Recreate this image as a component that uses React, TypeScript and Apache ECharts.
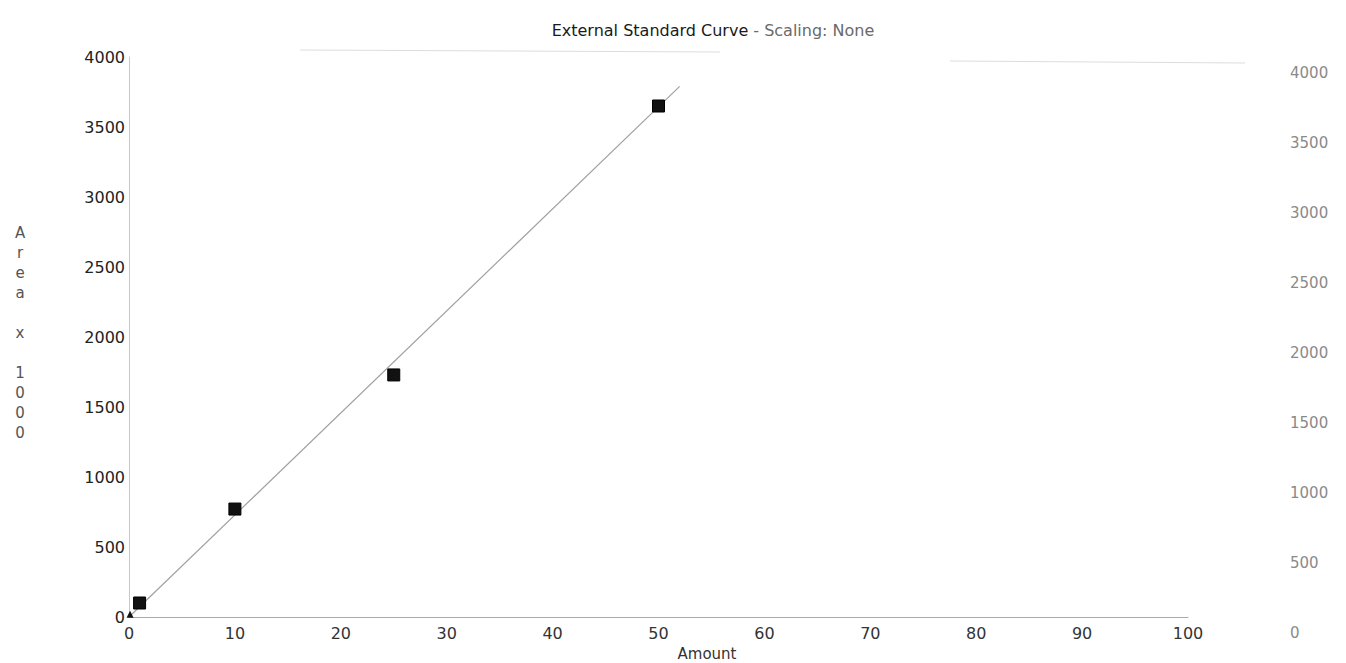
import React, { useEffect, useRef } from "react";
import * as echarts from "echarts";

const titleMain = "External Standard Curve";
const titleSub = " - Scaling: None";
const xAxisName = "Amount";
const yAxisName = ["A", "r", "e", "a", "", "x", "", "1", "0", "0", "0"];

const standardAmounts = [1, 10, 25, 50];
const standardAreas = [100, 771, 1729, 3650];
const originAmounts = [0.1];
const originAreas = [20];
const fitAmounts = [0, 52];
const fitAreas = [0, 3790];

const xTicks = [0, 10, 20, 30, 40, 50, 60, 70, 80, 90, 100];
const yTicks = [0, 500, 1000, 1500, 2000, 2500, 3000, 3500, 4000];

const FONT = "DejaVu Sans";
const plain = (v: number) => String(v);

export default function App() {
  const ref = useRef<HTMLDivElement>(null);
  useEffect(() => {
    if (!ref.current) return;
    const chart = echarts.init(ref.current, null, { renderer: "svg" });
    const xMin = xTicks[0];
    const xMax = xTicks[xTicks.length - 1];
    const yMin = yTicks[0];
    const yMax = yTicks[yTicks.length - 1];
    chart.setOption({
      animation: false,
      backgroundColor: "#ffffff",
      grid: [
        { left: 129, right: 158, top: 57, bottom: 46 },
        { left: 129, right: 64, top: 73, bottom: 30 },
      ],
      xAxis: [
        {
          type: "value",
          gridIndex: 0,
          min: xMin,
          max: xMax,
          interval: 10,
          axisLine: { show: true, lineStyle: { color: "#aaaaaa", width: 1 } },
          axisTick: { show: false },
          splitLine: { show: false },
          axisLabel: { margin: 8, fontSize: 16, fontFamily: FONT, color: "#333333", formatter: plain },
        },
        {
          type: "value",
          gridIndex: 1,
          min: xMin,
          max: xMax,
          show: false,
        },
      ],
      yAxis: [
        {
          type: "value",
          gridIndex: 0,
          min: yMin,
          max: yMax,
          interval: 500,
          axisLine: { show: true, lineStyle: { color: "#c8c8c8", width: 1 } },
          axisTick: { show: false },
          splitLine: { show: false },
          axisLabel: { margin: 4, fontSize: 16, fontFamily: FONT, color: "#222222", formatter: plain },
        },
        {
          type: "value",
          gridIndex: 1,
          position: "right",
          min: yMin,
          max: yMax,
          interval: 500,
          axisLine: { show: false },
          axisTick: { show: false },
          splitLine: { show: false },
          axisLabel: { margin: 8, fontSize: 15, fontFamily: FONT, color: "#8a8a8a", formatter: plain },
        },
      ],
      series: [
        {
          type: "line",
          xAxisIndex: 0,
          yAxisIndex: 0,
          data: fitAmounts.map((x, i) => [x, fitAreas[i]]),
          symbol: "none",
          lineStyle: { color: "#a0a0a0", width: 1.2 },
          z: 1,
        },
        {
          type: "scatter",
          xAxisIndex: 0,
          yAxisIndex: 0,
          data: standardAmounts.map((x, i) => [x, standardAreas[i]]),
          symbol: "rect",
          symbolSize: 12,
          itemStyle: { color: "#111111", borderColor: "#000000", borderWidth: 1, opacity: 1 },
          z: 3,
        },
        {
          type: "scatter",
          xAxisIndex: 0,
          yAxisIndex: 0,
          data: originAmounts.map((x, i) => [x, originAreas[i]]),
          symbol: "triangle",
          symbolSize: 7,
          itemStyle: { color: "#111111", opacity: 1 },
          z: 3,
        },
      ],
      graphic: [
        {
          type: "text",
          x: 713,
          y: 30,
          style: {
            text: "{a|" + titleMain + "}{b|" + titleSub + "}",
            align: "center",
            verticalAlign: "middle",
            rich: {
              a: { fontSize: 16, fontFamily: FONT, fill: "#1a1a1a" },
              b: { fontSize: 16, fontFamily: FONT, fill: "#6a6a6a" },
            },
          },
        },
        {
          type: "text",
          x: 707,
          y: 654,
          style: {
            text: xAxisName,
            align: "center",
            verticalAlign: "middle",
            fontSize: 15,
            fontFamily: FONT,
            fill: "#333333",
          },
        },
        {
          type: "text",
          x: 20,
          y: 223,
          style: {
            text: yAxisName.join("\n"),
            align: "center",
            verticalAlign: "top",
            fontSize: 15,
            lineHeight: 20,
            fontFamily: FONT,
            fill: "#555555",
          },
        },
        {
          type: "line",
          shape: { x1: 300, y1: 50, x2: 720, y2: 52 },
          style: { stroke: "#dddddd", lineWidth: 1 },
        },
        {
          type: "line",
          shape: { x1: 950, y1: 61, x2: 1245, y2: 63 },
          style: { stroke: "#dddddd", lineWidth: 1 },
        },
      ],
    });
    return () => chart.dispose();
  }, []);
  return <div ref={ref} style={{ width: 1346, height: 663, position: "absolute", left: 0, top: 0 }} />;
}
